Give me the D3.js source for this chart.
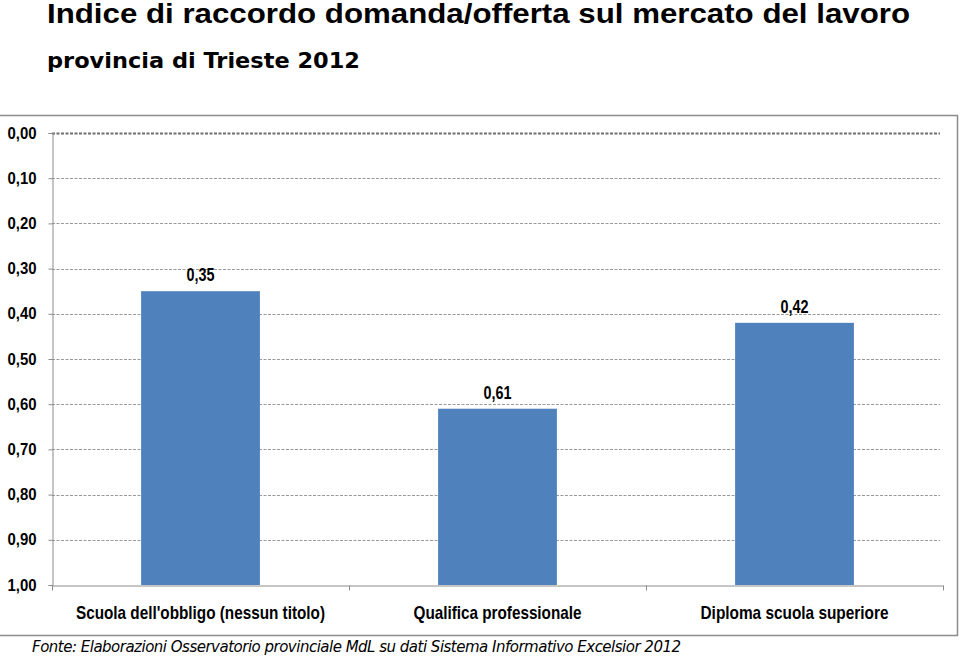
<!DOCTYPE html>
<html>
<head>
<meta charset="utf-8">
<script src="https://cdn.jsdelivr.net/npm/d3@7.9.0/dist/d3.min.js"></script>
<style>
  body { margin: 0; background: #fff; }
  svg { display: block; }
  .narrow { font-family: "Liberation Sans", Arial, sans-serif; font-weight: bold; }
</style>
</head>
<body>
<svg id="chart" width="960" height="656"></svg>
<script>
// dati
const categories = ['Scuola dell\'obbligo (nessun titolo)', 'Qualifica professionale', 'Diploma scuola superiore'];
const values = [0.35, 0.61, 0.42];
const yTicks = [0, 0.1, 0.2, 0.3, 0.4, 0.5, 0.6, 0.7, 0.8, 0.9, 1.0];
const catWidths = [249, 168, 188]; // larghezza testo condensato

const svg = d3.select('#chart');
const it = d3.formatLocale({ decimal: ',', thousands: '.', grouping: [3], currency: ['', '€'] });
const fmt = it.format('.2f');

// titoli
svg.append('text')
  .attr('x', 47).attr('y', 23)
  .attr('font-family', 'Liberation Sans, Arial, sans-serif')
  .attr('font-weight', 'bold').attr('font-size', 27)
  .attr('textLength', 863).attr('lengthAdjust', 'spacingAndGlyphs')
  .text('Indice di raccordo domanda/offerta sul mercato del lavoro');

svg.append('text')
  .attr('x', 47).attr('y', 68)
  .attr('font-family', 'DejaVu Sans, Verdana, sans-serif')
  .attr('font-weight', 'bold').attr('font-size', 22)
  .attr('textLength', 313).attr('lengthAdjust', 'spacingAndGlyphs')
  .text('provincia di Trieste 2012');

// cornice
svg.append('path')
  .attr('d', 'M0,115.5 H957.5 V635.5 H0')
  .attr('fill', 'none').attr('stroke', '#8c8c8c').attr('stroke-width', 1.5);

const left = 52, right = 943;
const y = d3.scaleLinear().domain([0, 1]).range([133, 585]);
const x = d3.scaleBand().domain(categories).range([left, right]).paddingInner(0.6).paddingOuter(0.3);

// griglia
svg.append('g').selectAll('line').data(yTicks.slice(0, -1)).join('line')
  .attr('x1', left).attr('x2', 940)
  .attr('y1', d => Math.round(y(d)) + 0.5).attr('y2', d => Math.round(y(d)) + 0.5)
  .attr('stroke', d => d === 0 ? '#6e6e6e' : '#9a9a9a')
  .attr('stroke-width', d => d === 0 ? 2 : 1)
  .attr('stroke-dasharray', '3,1.5');

// barre
svg.append('g').selectAll('rect').data(values).join('rect')
  .attr('x', (d, i) => x(categories[i]))
  .attr('y', d => y(d))
  .attr('width', x.bandwidth())
  .attr('height', d => y(1) - y(d))
  .attr('fill', '#4f81bd');

// etichette valori
svg.append('g').selectAll('text').data(values).join('text')
  .attr('class', 'narrow')
  .attr('x', (d, i) => x(categories[i]) + x.bandwidth() / 2)
  .attr('y', d => y(d) - 10)
  .attr('text-anchor', 'middle').attr('font-size', 18)
  .attr('textLength', 28).attr('lengthAdjust', 'spacingAndGlyphs')
  .text(d => fmt(d));

// asse y
const yAxis = svg.append('g').attr('transform', `translate(${left + 0.5},0)`)
  .call(d3.axisLeft(y).tickValues(yTicks).tickSize(4).tickFormat(fmt));
yAxis.select('.domain').attr('stroke', '#8c8c8c');
yAxis.selectAll('.tick line').attr('stroke', '#8c8c8c');
yAxis.selectAll('.tick text').attr('class', 'narrow').attr('x', -16)
  .attr('font-size', 16).attr('fill', '#000')
  .attr('textLength', 29).attr('lengthAdjust', 'spacingAndGlyphs');

// asse x
const xAxis = svg.append('g').attr('transform', `translate(0,${y(1) + 0.5})`)
  .call(d3.axisBottom(x).tickSize(0).tickFormat(''));
xAxis.select('.domain').attr('stroke', '#8c8c8c');
const step = x.step();
const bounds = [left, left + step, left + 2 * step, right];
xAxis.selectAll('.sep').data(bounds).join('line')
  .attr('x1', d => d + 0.5).attr('x2', d => d + 0.5)
  .attr('y1', 0).attr('y2', 5).attr('stroke', '#8c8c8c');

svg.append('g').selectAll('text').data(categories).join('text')
  .attr('class', 'narrow')
  .attr('x', d => x(d) + x.bandwidth() / 2)
  .attr('y', 619)
  .attr('text-anchor', 'middle').attr('font-size', 19)
  .attr('textLength', (d, i) => catWidths[i]).attr('lengthAdjust', 'spacingAndGlyphs')
  .text(d => d);

// fonte
svg.append('text')
  .attr('x', 32).attr('y', 652)
  .attr('font-family', 'DejaVu Sans, Verdana, sans-serif')
  .attr('font-style', 'italic').attr('font-size', 15)
  .attr('textLength', 649)
  .text('Fonte: Elaborazioni Osservatorio provinciale MdL su dati Sistema Informativo Excelsior 2012');
</script>
</body>
</html>
